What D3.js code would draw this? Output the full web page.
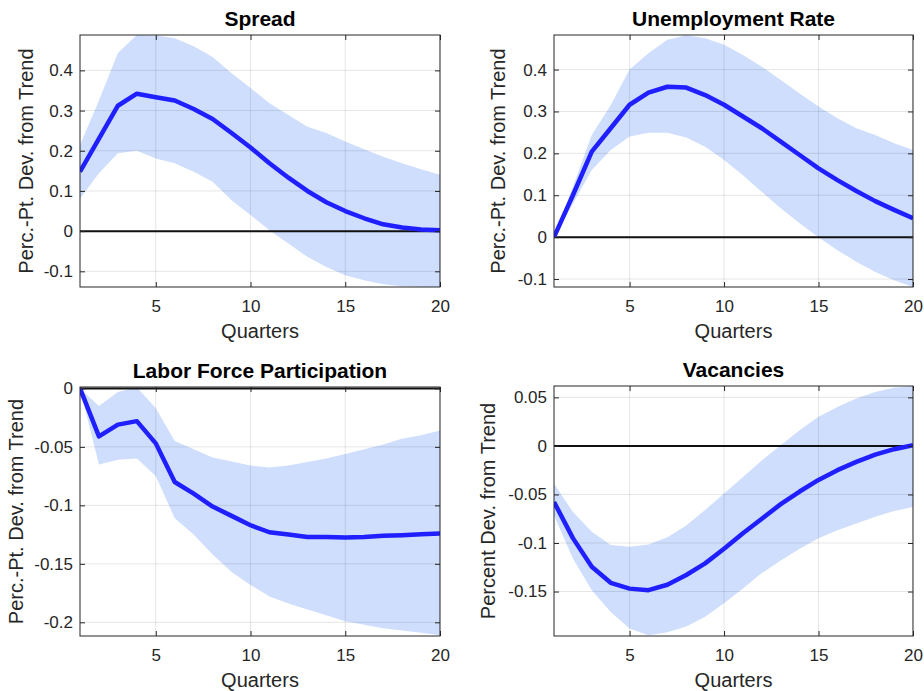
<!DOCTYPE html>
<html>
<head>
<meta charset="utf-8">
<script src="https://cdn.jsdelivr.net/npm/d3@7"></script>
<style>
  body { margin: 0; background: #fff; }
  svg { display: block; font-family: "Liberation Sans", Arial, sans-serif; }
</style>
</head>
<body>
<svg></svg>
<script>
const width = 924
const height = 691

// quarters 1..20
const quarters = [1, 2, 3, 4, 5, 6, 7, 8, 9, 10, 11, 12, 13, 14, 15, 16, 17, 18, 19, 20]

// Spread
const spreadMid = [0.148, 0.23, 0.312, 0.342, 0.333, 0.325, 0.304, 0.279, 0.244, 0.208, 0.169, 0.133, 0.1, 0.072, 0.05, 0.032, 0.017, 0.009, 0.004, 0.002]
const spreadHi = [0.214, 0.325, 0.443, 0.488, 0.487, 0.48, 0.46, 0.433, 0.393, 0.356, 0.318, 0.289, 0.26, 0.244, 0.223, 0.204, 0.185, 0.169, 0.154, 0.14]
const spreadLo = [0.081, 0.144, 0.194, 0.2, 0.181, 0.169, 0.148, 0.123, 0.077, 0.04, 0.002, -0.031, -0.064, -0.089, -0.11, -0.122, -0.132, -0.137, -0.139, -0.139]

// Unemployment rate
const unempMid = [0, 0.1, 0.204, 0.26, 0.316, 0.345, 0.359, 0.357, 0.339, 0.316, 0.288, 0.26, 0.228, 0.196, 0.164, 0.136, 0.11, 0.086, 0.065, 0.045]
const unempHi = [0, 0.12, 0.244, 0.315, 0.4, 0.439, 0.471, 0.482, 0.475, 0.459, 0.435, 0.407, 0.375, 0.343, 0.312, 0.284, 0.26, 0.244, 0.224, 0.208]
const unempLo = [0, 0.08, 0.16, 0.208, 0.24, 0.249, 0.249, 0.238, 0.216, 0.184, 0.148, 0.108, 0.069, 0.033, 0, -0.031, -0.059, -0.083, -0.103, -0.119]

// Labor force participation
const lfpMid = [0, -0.041, -0.031, -0.028, -0.047, -0.08, -0.09, -0.101, -0.109, -0.117, -0.123, -0.125, -0.127, -0.127, -0.1275, -0.127, -0.126, -0.1255, -0.1247, -0.124]
const lfpHi = [0, -0.015, -0.003, 0.001, -0.017, -0.045, -0.052, -0.059, -0.0625, -0.066, -0.0676, -0.066, -0.063, -0.06, -0.056, -0.052, -0.048, -0.043, -0.04, -0.036]
const lfpLo = [0, -0.065, -0.061, -0.06, -0.075, -0.111, -0.125, -0.142, -0.157, -0.168, -0.178, -0.184, -0.189, -0.194, -0.199, -0.202, -0.205, -0.207, -0.209, -0.211]

// Vacancies
const vacMid = [-0.0577, -0.095, -0.1245, -0.141, -0.147, -0.1486, -0.143, -0.133, -0.121, -0.106, -0.09, -0.075, -0.06, -0.047, -0.035, -0.025, -0.0165, -0.009, -0.0034, 0.0007]
const vacHi = [-0.039, -0.068, -0.0885, -0.102, -0.104, -0.1016, -0.094, -0.082, -0.066, -0.049, -0.032, -0.015, 0.0007, 0.016, 0.03, 0.04, 0.0487, 0.0556, 0.06, 0.0614]
const vacLo = [-0.0714, -0.116, -0.1486, -0.171, -0.188, -0.195, -0.192, -0.186, -0.176, -0.162, -0.147, -0.131, -0.118, -0.106, -0.095, -0.087, -0.08, -0.073, -0.067, -0.063]

const xTicks = [5, 10, 15, 20]
const spreadTicks = [-0.1, 0, 0.1, 0.2, 0.3, 0.4]
const unempTicks = [-0.1, 0, 0.1, 0.2, 0.3, 0.4]
const lfpTicks = [-0.2, -0.15, -0.1, -0.05, 0]
const vacTicks = [-0.15, -0.1, -0.05, 0, 0.05]

const ppLabel = 'Perc.-Pt. Dev. from Trend'

const panels = [
  { title: 'Spread', ylabel: ppLabel, mid: spreadMid, hi: spreadHi, lo: spreadLo, ticks: spreadTicks,
    box: [80, 35, 440, 287], ydom: [-0.139, 0.488], labelX: 27 },
  { title: 'Unemployment Rate', ylabel: ppLabel, mid: unempMid, hi: unempHi, lo: unempLo, ticks: unempTicks,
    box: [554, 35, 913, 287], ydom: [-0.119, 0.4825], labelX: 499 },
  { title: 'Labor Force Participation', ylabel: ppLabel, mid: lfpMid, hi: lfpHi, lo: lfpLo, ticks: lfpTicks,
    box: [80, 387, 440, 636], ydom: [-0.2117, 0.0012], labelX: 17 },
  { title: 'Vacancies', ylabel: 'Percent Dev. from Trend', mid: vacMid, hi: vacHi, lo: vacLo, ticks: vacTicks,
    box: [554, 386, 913, 636], ydom: [-0.1958, 0.0617], labelX: 489 },
]

const svg = d3.select('svg').attr('width', width).attr('height', height)

const fmt = (v) => (Math.abs(v) < 1e-9 ? '0' : String(+v.toFixed(2)))

panels.forEach((p) => {
  const [x0, y0, x1, y1] = p.box
  const x = d3.scaleLinear().domain([1, 20]).range([x0, x1])
  const y = d3.scaleLinear().domain(p.ydom).range([y1, y0])
  const g = svg.append('g')

  const clipId = 'clip-' + p.title.replace(/\W/g, '')
  g.append('clipPath').attr('id', clipId)
    .append('rect').attr('x', x0).attr('y', y0).attr('width', x1 - x0).attr('height', y1 - y0)

  const plot = g.append('g').attr('clip-path', `url(#${clipId})`)

  // confidence band
  const area = d3.area()
    .x((d, i) => x(quarters[i]))
    .y0((d, i) => y(p.lo[i]))
    .y1((d, i) => y(p.hi[i]))
  plot.append('path').datum(p.mid).attr('d', area).style('fill', '#cedefc')

  // grid
  plot.selectAll('.gx').data(xTicks).enter().append('line')
    .attr('x1', (d) => x(d)).attr('x2', (d) => x(d)).attr('y1', y0).attr('y2', y1)
    .style('stroke', 'rgba(0,0,0,0.1)').style('stroke-width', 1)
  plot.selectAll('.gy').data(p.ticks).enter().append('line')
    .attr('x1', x0).attr('x2', x1).attr('y1', (d) => y(d)).attr('y2', (d) => y(d))
    .style('stroke', 'rgba(0,0,0,0.1)').style('stroke-width', 1)

  // zero line
  plot.append('line')
    .attr('x1', x0).attr('x2', x1).attr('y1', y(0)).attr('y2', y(0))
    .style('stroke', '#111').style('stroke-width', 2)

  // median response
  const line = d3.line().x((d, i) => x(quarters[i])).y((d) => y(d))
  plot.append('path').datum(p.mid).attr('d', line)
    .style('fill', 'none').style('stroke', '#1f1fff').style('stroke-width', 4.5)
    .style('stroke-linejoin', 'round')

  // axes: inward ticks on all sides
  const tl = -5
  g.append('g').attr('transform', `translate(0,${y1})`)
    .call(d3.axisBottom(x).tickValues(xTicks).tickSize(tl).tickPadding(13).tickFormat(d3.format('d')))
  g.append('g').attr('transform', `translate(0,${y0})`)
    .call(d3.axisTop(x).tickValues(xTicks).tickSize(tl).tickFormat(''))
  g.append('g').attr('transform', `translate(${x0},0)`)
    .call(d3.axisLeft(y).tickValues(p.ticks).tickSize(tl).tickPadding(7).tickFormat(fmt))
  g.append('g').attr('transform', `translate(${x1},0)`)
    .call(d3.axisRight(y).tickValues(p.ticks).tickSize(tl).tickFormat(''))

  g.selectAll('.domain').remove()
  g.selectAll('.tick line').style('stroke', '#262626')
  g.selectAll('.tick text').style('font-size', '17px').style('fill', '#262626')
    .style('font-family', '"Liberation Sans", Arial, sans-serif')

  g.append('rect')
    .attr('x', x0).attr('y', y0).attr('width', x1 - x0).attr('height', y1 - y0)
    .style('fill', 'none').style('stroke', '#262626').style('stroke-width', 1)

  // labels
  g.append('text')
    .attr('x', (x0 + x1) / 2).attr('y', y0 - 9)
    .attr('text-anchor', 'middle')
    .style('font-size', '21px').style('font-weight', 'bold').style('fill', '#000')
    .text(p.title)
  g.append('text')
    .attr('x', (x0 + x1) / 2).attr('y', y1 + 51)
    .attr('text-anchor', 'middle')
    .style('font-size', '20px').style('fill', '#262626')
    .text('Quarters')
  g.append('text')
    .attr('transform', `translate(${p.labelX + 6},${(y0 + y1) / 2}) rotate(-90)`)
    .attr('text-anchor', 'middle')
    .style('font-size', '20px').style('fill', '#262626')
    .text(p.ylabel)
})
</script>
</body>
</html>
